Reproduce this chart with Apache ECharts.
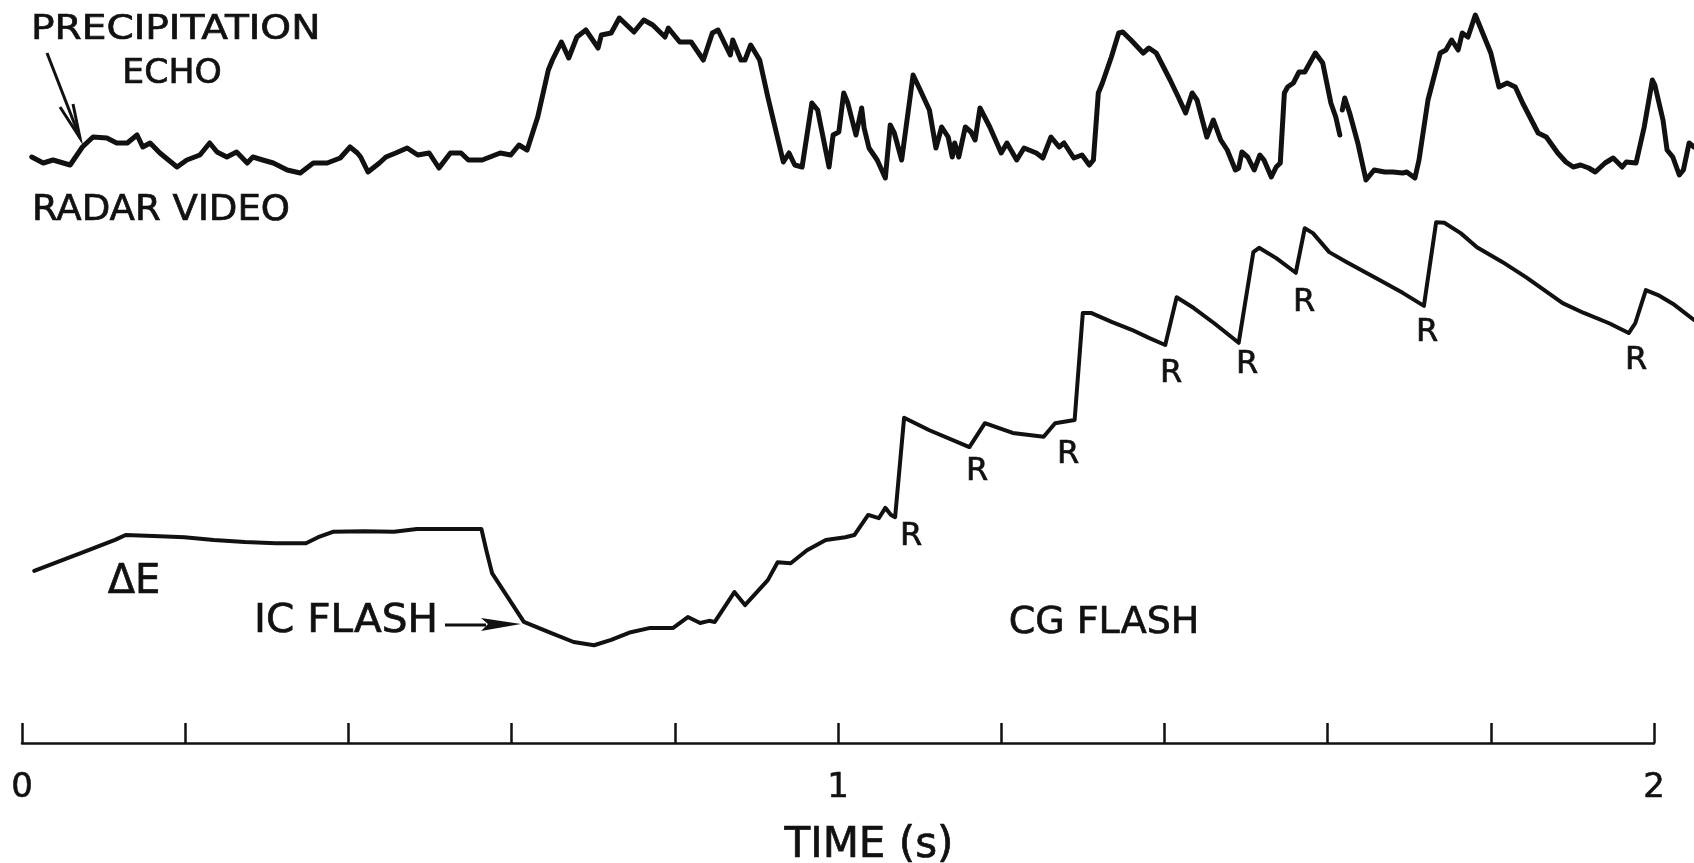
<!DOCTYPE html>
<html>
<head>
<meta charset="utf-8">
<title>Radar video and field change</title>
<script src="https://cdn.jsdelivr.net/npm/echarts@6/dist/echarts.min.js"></script>
<style>
  html, body { margin: 0; padding: 0; background: #fff; }
  #main { width: 1694px; height: 863px; }
</style>
</head>
<body>
<div id="main"></div>
<script>
// radar video (precipitation echo), time in s, amplitude in arbitrary units
var radarTime = [
  0.012, 0.026, 0.038, 0.059, 0.074, 0.087, 0.104, 0.116, 0.129, 0.141, 0.148, 0.157, 0.169, 0.190, 0.202, 0.218,
  0.230, 0.239, 0.251, 0.263, 0.276, 0.283, 0.295, 0.308, 0.325, 0.341, 0.357, 0.374, 0.390, 0.402, 0.411, 0.415,
  0.424, 0.438, 0.446, 0.458, 0.472, 0.485, 0.499, 0.511, 0.525, 0.538, 0.547, 0.564, 0.586, 0.599, 0.609, 0.619,
  0.632, 0.645, 0.650, 0.661, 0.670, 0.680, 0.691, 0.706, 0.710, 0.722, 0.732, 0.750, 0.762, 0.773, 0.788, 0.792,
  0.806, 0.820, 0.835, 0.846, 0.853, 0.868, 0.871, 0.881, 0.886, 0.893, 0.904, 0.914, 0.933, 0.940, 0.947, 0.956,
  0.968, 0.975, 0.989, 0.994, 1.001, 1.007, 1.012, 1.022, 1.029, 1.032, 1.038, 1.048, 1.058, 1.064, 1.069, 1.078,
  1.092, 1.099, 1.112, 1.120, 1.127, 1.135, 1.140, 1.143, 1.148, 1.156, 1.163, 1.168, 1.174, 1.186, 1.200, 1.207,
  1.219, 1.228, 1.243, 1.251, 1.261, 1.271, 1.277, 1.289, 1.299, 1.308, 1.313, 1.319, 1.324, 1.335, 1.344, 1.349,
  1.359, 1.374, 1.381, 1.390, 1.407, 1.417, 1.426, 1.434, 1.440, 1.452, 1.460, 1.469, 1.477, 1.487, 1.491, 1.495,
  1.502, 1.510, 1.517, 1.522, 1.531, 1.537, 1.542, 1.547, 1.551, 1.558, 1.565, 1.572, 1.585, 1.594, 1.599, 1.604,
  1.610, 1.615, 1.616, 1.618, 1.621, 1.627, 1.637, 1.647, 1.657, 1.670, 1.680, 1.692, 1.697, 1.707, 1.712, 1.723,
  1.738, 1.745, 1.752, 1.760, 1.765, 1.772, 1.781, 1.790, 1.800, 1.810, 1.820, 1.830, 1.839, 1.858, 1.868, 1.882,
  1.892, 1.901, 1.910, 1.920, 1.928, 1.940, 1.950, 1.961, 1.966, 1.978, 1.988, 1.998, 2.001, 2.011, 2.016, 2.023,
  2.031, 2.036, 2.043, 2.049
];
var radarVideo = [
  2.15, 1.85, 2.0, 1.75, 2.65, 3.15, 3.1, 2.85, 2.85, 3.25, 2.65, 2.85, 2.35, 1.65, 2.0, 2.25,
  2.85, 2.4, 2.15, 2.4, 1.85, 2.15, 2.0, 1.85, 1.5, 1.35, 1.85, 1.85, 2.1, 2.65, 2.35, 2.15,
  1.4, 1.85, 2.15, 2.35, 2.6, 2.25, 2.35, 1.6, 2.35, 2.35, 2.0, 2.0, 2.35, 2.25, 2.75, 2.5,
  4.15, 6.5, 7.0, 7.9, 7.1, 8.15, 8.5, 7.6, 8.25, 8.35, 9.1, 8.4, 9.0, 8.75, 8.15, 8.6,
  7.9, 7.9, 7.0, 8.35, 8.5, 7.25, 8.0, 7.0, 7.0, 7.75, 7.0, 5.15, 1.9, 2.35, 1.75, 1.65,
  4.85, 4.5, 1.65, 3.25, 3.4, 5.35, 4.85, 3.25, 4.6, 3.6, 2.6, 2.0, 1.1, 3.75, 3.35, 2.0,
  6.25, 5.65, 4.5, 2.6, 3.65, 3.15, 2.15, 2.85, 2.15, 3.65, 3.4, 3.0, 4.6, 3.65, 2.35, 2.85,
  2.0, 2.6, 2.35, 2.1, 3.15, 2.65, 2.85, 2.1, 2.25, 1.75, 2.0, 5.35, 5.85, 7.15, 8.35, 8.4,
  8.0, 7.35, 7.6, 7.35, 6.0, 5.15, 4.35, 5.35, 5.0, 3.15, 4.0, 3.0, 2.5, 1.5, 1.6, 2.4,
  2.15, 1.5, 2.25, 2.0, 1.15, 1.65, 1.85, 5.35, 5.65, 5.85, 6.4, 6.4, 7.35, 6.85, 5.85, 4.85,
  4.15, 3.25, '-', 4.5, 5.1, 4.35, 2.85, 1.0, 1.5, 1.4, 1.4, 1.35, 1.4, 1.1, 2.0, 5.0,
  7.35, 7.5, 8.0, 7.5, 8.35, 8.15, 9.25, 8.35, 7.35, 5.65, 5.85, 5.65, 4.85, 3.35, 3.15, 2.35,
  1.9, 1.65, 1.75, 1.6, 1.4, 1.85, 2.1, 1.65, 1.9, 1.85, 3.65, 6.0, 5.75, 4.0, 2.5, 2.15,
  1.25, 1.5, 2.85, 2.65
];

// electric field change, time in s, arbitrary units
var fieldTime = [
  0.015, 0.043, 0.076, 0.114, 0.127, 0.161, 0.199, 0.235, 0.273, 0.311, 0.348, 0.363, 0.381, 0.419, 0.456, 0.484,
  0.527, 0.563, 0.569, 0.576, 0.592, 0.615, 0.648, 0.676, 0.701, 0.722, 0.746, 0.770, 0.798, 0.816, 0.831, 0.842,
  0.849, 0.873, 0.886, 0.914, 0.926, 0.942, 0.962, 0.985, 1.009, 1.020, 1.037, 1.050, 1.058, 1.065, 1.070, 1.081,
  1.112, 1.161, 1.180, 1.214, 1.252, 1.266, 1.290, 1.300, 1.310, 1.336, 1.360, 1.381, 1.401, 1.415, 1.436, 1.461,
  1.491, 1.509, 1.516, 1.537, 1.561, 1.572, 1.582, 1.602, 1.623, 1.663, 1.692, 1.718, 1.733, 1.743, 1.763, 1.783,
  1.814, 1.843, 1.888, 1.914, 1.945, 1.969, 1.977, 1.990, 2.005, 2.025, 2.049
];
var fieldChange = [
  3.17, 3.33, 3.52, 3.74, 3.83, 3.81, 3.79, 3.74, 3.70, 3.68, 3.68, 3.79, 3.89, 3.90, 3.89, 3.94,
  3.94, 3.94, 3.55, 3.13, 2.76, 2.23, 2.03, 1.86, 1.80, 1.90, 2.04, 2.12, 2.12, 2.32, 2.21, 2.25,
  2.23, 2.78, 2.54, 3.00, 3.33, 3.31, 3.55, 3.74, 3.79, 3.83, 4.20, 4.14, 4.33, 4.20, 4.16, 5.99,
  5.76, 5.45, 5.89, 5.71, 5.64, 5.89, 5.95, 7.92, 7.92, 7.75, 7.61, 7.46, 7.33, 8.21, 8.01, 7.73,
  7.37, 9.04, 9.12, 8.93, 8.66, 9.48, 9.39, 9.04, 8.86, 8.53, 8.29, 8.05, 9.59, 9.58, 9.39, 9.13,
  8.86, 8.58, 8.10, 7.92, 7.73, 7.55, 7.73, 8.34, 8.25, 8.07, 7.79
];

var timeTicks = ['0', '1', '2'];

var INK = '#111';
var FONT = 'DejaVu Sans';
// the traces run a little past the 2 s tick, to the edge of the sheet
var TRACE_END = 2.049;

function zip(xs, ys) {
  return xs.map(function (x, i) { return [x, ys[i]]; });
}

function txt(s, x, y, size, align, sx) {
  return {
    type: 'text', x: x, y: y, scaleX: sx || 1,
    style: {
      text: s, fill: INK, stroke: INK, lineWidth: 0.7,
      font: size + 'px "' + FONT + '"', textAlign: align || 'center', textVerticalAlign: 'middle'
    }
  };
}

// return stroke labels (pixel layout)
var rLabels = [[911, 537], [977, 472], [1068, 455], [1171, 374], [1247, 365], [1304, 303], [1427, 333], [1636, 361]];

var graphics = [
  txt('PRECIPITATION', 31, 30, 34, 'left', 1.15),
  txt('ECHO', 172, 74, 33, 'center', 1.05),
  txt('RADAR VIDEO', 32, 211, 35, 'left', 1.06),
  txt('\u0394E', 134, 583, 40),
  txt('IC FLASH', 254, 622, 39, 'left', 1.04),
  txt('CG FLASH', 1104, 623, 38),
  // echo arrow
  { type: 'line', shape: { x1: 47, y1: 53, x2: 80, y2: 138 }, style: { stroke: INK, lineWidth: 3 } },
  { type: 'polyline', shape: { points: [[60, 107], [80, 138], [73, 104]] }, style: { stroke: INK, lineWidth: 3, fill: null } },
  // IC flash arrow
  { type: 'line', shape: { x1: 445, y1: 625, x2: 486, y2: 625 }, style: { stroke: INK, lineWidth: 3 } },
  { type: 'polygon', shape: { points: [[481, 618], [521, 624], [481, 631], [488, 624]] }, style: { fill: INK } }
];
rLabels.forEach(function (p) { graphics.push(txt('R', p[0], p[1], 32)); });

var chart = echarts.init(document.getElementById('main'));
chart.setOption({
  backgroundColor: '#fff',
  animation: false,
  grid: [
    { left: 22, right: 0, top: 0, height: 200, outerBoundsMode: 'none' },
    { left: 22, right: 0, top: 200, height: 543, outerBoundsMode: 'none' },
    { left: 22, right: 40, top: 200, height: 543, outerBoundsMode: 'none' }
  ],
  xAxis: [
    { gridIndex: 0, type: 'value', min: 0, max: TRACE_END, show: false },
    { gridIndex: 1, type: 'value', min: 0, max: TRACE_END, show: false },
    {
      gridIndex: 2, type: 'value', min: 0, max: 2, interval: 0.2,
      name: 'TIME (s)', nameLocation: 'middle', nameGap: 82,
      nameTextStyle: {
        color: INK, fontFamily: FONT, fontSize: 42, padding: [0, 0, 0, 62],
        textBorderColor: INK, textBorderWidth: 0.7
      },
      axisLine: { onZero: false, lineStyle: { color: INK, width: 2.5 } },
      axisTick: { inside: true, length: 20, lineStyle: { color: INK, width: 2.5 } },
      splitLine: { show: false },
      axisLabel: {
        color: INK, fontFamily: FONT, fontSize: 34, margin: 28,
        textBorderColor: INK, textBorderWidth: 0.6,
        showMinLabel: true, showMaxLabel: true,
        formatter: function (v) {
          var r = Math.round(v);
          return Math.abs(v - r) < 1e-6 ? timeTicks[r] : '';
        }
      }
    }
  ],
  yAxis: [
    { gridIndex: 0, type: 'value', min: 0, max: 10, show: false },
    { gridIndex: 1, type: 'value', min: 0, max: 10, show: false },
    { gridIndex: 2, type: 'value', min: 0, max: 10, show: false }
  ],
  series: [
    {
      name: 'Radar video', type: 'line', xAxisIndex: 0, yAxisIndex: 0,
      data: zip(radarTime, radarVideo), showSymbol: false, connectNulls: false,
      lineStyle: { color: INK, width: 5, join: 'round', cap: 'round' }
    },
    {
      name: '\u0394E', type: 'line', xAxisIndex: 1, yAxisIndex: 1,
      data: zip(fieldTime, fieldChange), showSymbol: false,
      lineStyle: { color: INK, width: 4, join: 'round', cap: 'round' }
    }
  ],
  graphic: graphics
});
</script>
</body>
</html>
